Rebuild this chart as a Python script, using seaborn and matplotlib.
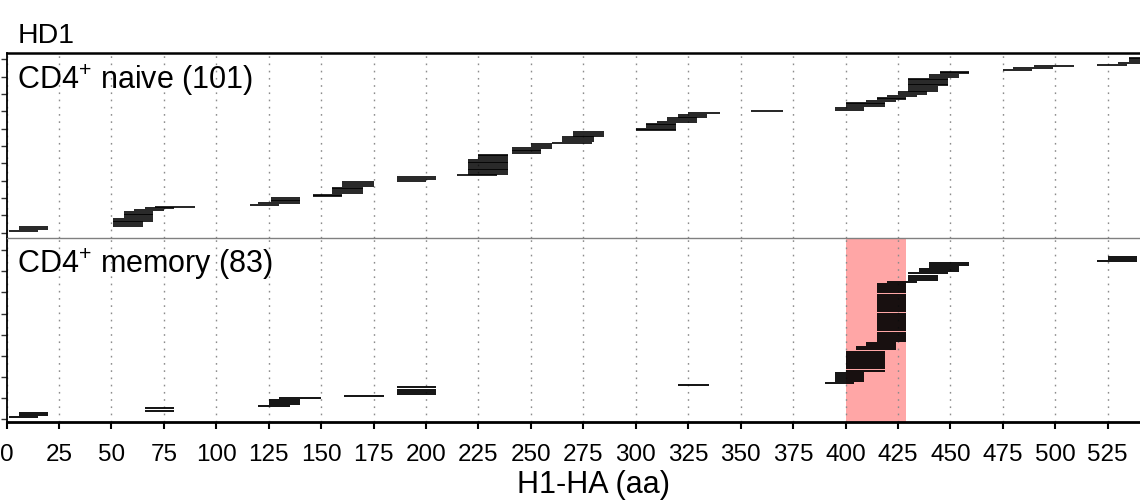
import matplotlib

matplotlib.use("Agg")
import matplotlib.pyplot as plt
import pandas as pd
import seaborn as sns

sns.set_theme(style="white")
plt.rcParams["font.family"] = ["Liberation Sans", "DejaVu Sans"]
plt.rcParams["mathtext.fontset"] = "custom"
plt.rcParams["mathtext.rm"] = "Liberation Sans"
plt.rcParams["mathtext.it"] = "Liberation Sans:italic"
plt.rcParams["mathtext.bf"] = "Liberation Sans:bold"
plt.rcParams["text.color"] = "black"
plt.rcParams["axes.labelcolor"] = "black"
plt.rcParams["xtick.color"] = "black"
plt.rcParams["ytick.color"] = "black"

# --- data: peptide start / end positions (aa), one row per peptide ---------

naive_start = [
    1, 6, 6,
    51, 51, 51, 51, 51, 56, 56, 56, 56, 61, 66, 71,
    116, 120, 126, 126, 126,
    146, 146, 155, 155, 155, 155, 160, 160, 160,
    186, 186, 186,
    215, 220, 220, 220, 220, 220, 220, 220, 220, 220, 225, 225, 225,
    241, 241, 241, 241, 250, 250,
    260, 265, 265, 265, 270, 270, 270,
    300, 300, 305, 305, 305, 310, 315, 315, 320, 320, 325,
    355,
    395, 395, 400, 400, 400, 410, 415, 415, 420, 425, 425, 430, 430, 430,
    430, 430, 430, 430, 430, 440, 440, 445, 445,
    475, 480, 490,
    520, 530, 535, 535, 535,
]
naive_end = [
    15, 20, 20,
    65, 65, 65, 70, 70, 70, 70, 70, 70, 75, 80, 90,
    130, 140, 140, 140, 140,
    160, 160, 170, 170, 170, 170, 175, 175, 175,
    200, 205, 205,
    234, 239, 239, 239, 239, 239, 239, 239, 239, 239, 239, 239, 239,
    255, 255, 255, 260, 260, 260,
    279, 280, 280, 280, 285, 285, 285,
    319, 319, 319, 319, 319, 329, 329, 329, 334, 334, 340,
    370,
    409, 409, 419, 419, 419, 424, 429, 429, 434, 439, 439, 444, 444, 444,
    449, 449, 449, 449, 449, 454, 454, 459, 459,
    489, 499, 509,
    534, 544, 549, 549, 549,
]

memory_start = [
    1, 6, 6,
    66, 66,
    120, 125, 125, 125, 130,
    161,
    186, 186, 186, 186,
    320,
    390, 395, 395, 395, 395, 395,
    400, 400, 400, 400, 400, 400, 400, 400, 400, 400,
    405, 405, 410, 410,
    415, 415, 415, 415, 415, 415, 415, 415, 415, 415, 415, 415, 415, 415,
    415, 415, 415, 415, 415, 415, 415, 415, 415, 415, 415, 415, 415, 415,
    420, 430, 430, 430, 430, 435, 435, 440, 440, 440,
    520, 525, 525,
]
memory_end = [
    15, 20, 20,
    80, 80,
    135, 140, 140, 140, 150,
    180,
    205, 205, 205, 205,
    335,
    404, 409, 409, 409, 409, 409,
    419, 419, 419, 419, 419, 419, 419, 419, 419, 419,
    424, 424, 424, 424,
    429, 429, 429, 429, 429, 429, 429, 429, 429, 429, 429, 429, 429, 429,
    429, 429, 429, 429, 429, 429, 429, 429, 429, 429, 429, 429, 429, 429,
    434, 444, 444, 444, 449, 454, 454, 454, 459, 459,
    539, 539, 539,
]

naive_label = r"CD4$^{+}$ naive (101)"
memory_label = r"CD4$^{+}$ memory (83)"
highlight = (400, 429)
x_ticks = list(range(0, 526, 25))


def _segments(starts, ends):
    rows = []
    for i, (s, e) in enumerate(zip(starts, ends)):
        rows.append({"pos": s, "row": i + 1, "pep": i})
        rows.append({"pos": e, "row": i + 1, "pep": i})
    return pd.DataFrame(rows)


def draw_panel(ax, starts, ends, lw, ylim, ymax_tick):
    sns.lineplot(data=_segments(starts, ends), x="pos", y="row", units="pep",
                 estimator=None, sort=False, color="black", lw=lw,
                 solid_capstyle="butt", legend=False, ax=ax)
    ax.set_xlim(0, 560)
    ax.set_ylim(*ylim)
    ax.set_xticks(x_ticks)
    ax.set_yticks(range(0, ymax_tick + 1, 10))
    ax.set_yticklabels([])
    ax.set_xlabel("")
    ax.set_ylabel("")
    ax.set_facecolor("none")
    ax.grid(axis="x", color="#8c8c8c", lw=1.0, linestyle=(0, (1.2, 4)))
    ax.tick_params(axis="y", direction="out", length=4, width=1, color="#333333", left=True)
    ax.spines["left"].set_color("black")
    ax.spines["left"].set_linewidth(1.3)
    ax.spines["right"].set_visible(False)


fig = plt.figure(figsize=(11.4, 5), dpi=100)
L, W = 6.5 / 1140, 560 * 2.0975 / 1140
ax_top = fig.add_axes([L, 0.524, W, 0.3706])
ax_bot = fig.add_axes([L, 0.156, W, 0.368])

draw_panel(ax_top, naive_start, naive_end, 1.2, (-3.1, 103.9), 100)
draw_panel(ax_bot, memory_start, memory_end, 1.3, (-1.4, 85.8), 80)

ax_bot.axvspan(*highlight, color="#ffa6a6", lw=0, zorder=0.5)

ax_top.spines["top"].set_color("black")
ax_top.spines["top"].set_linewidth(1.8)
ax_top.spines["bottom"].set_visible(False)
ax_top.tick_params(axis="x", bottom=False, labelbottom=False)

# thin grey separator between the two panels
ax_bot.spines["top"].set_color("#808080")
ax_bot.spines["top"].set_linewidth(1.0)
ax_bot.spines["bottom"].set_color("black")
ax_bot.spines["bottom"].set_linewidth(2.0)
ax_bot.tick_params(axis="x", direction="out", length=5, width=1.5, color="black",
                   bottom=True, labelsize=17.5, pad=11)
ax_bot.set_xlabel("H1-HA (aa)", fontsize=22, va="baseline")
ax_bot.xaxis.set_label_coords(0.5, -(493 - 422) / 184)

fig.text(18 / 1140, 1 - 42.7 / 500, "HD1", fontsize=20.5, va="baseline")
fig.text(17 / 1140, 1 - 89 / 500, naive_label, fontsize=22, va="baseline")
fig.text(17 / 1140, 1 - 273 / 500, memory_label, fontsize=22, va="baseline")

fig.savefig("out.png", dpi=100)
